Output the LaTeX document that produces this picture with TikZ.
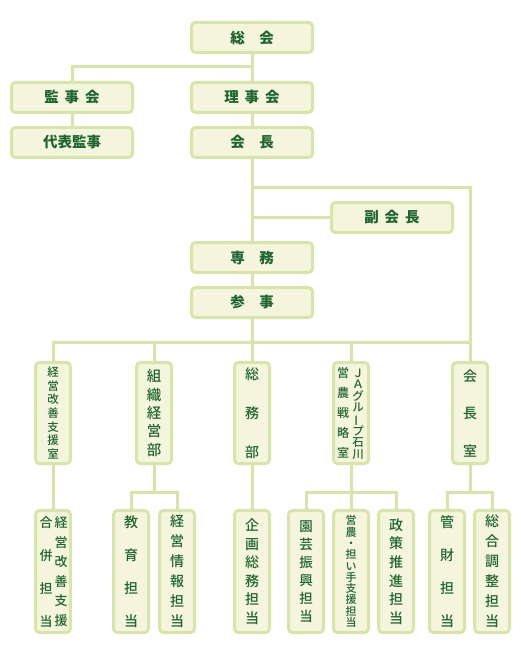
\documentclass[tikz,border=0pt]{standalone}
\usepackage{fontspec}
\setmainfont{Noto Sans CJK JP}
\newfontfamily\medfont{Noto Sans CJK JP Medium}
\usepackage{xcolor}
\definecolor{lineGreen}{HTML}{D5E6A8}
\definecolor{boxFill}{HTML}{F4F5DC}
\definecolor{textGreen}{HTML}{1E6630}
\newcommand\colsize[2]{\medfont\fontsize{#1}{#2}\selectfont\lineskiplimit=-20pt\relax}

\begin{document}
\begin{tikzpicture}[
    x=1pt, y=-1pt,
    box/.style={%
      draw=lineGreen,
      line width=3pt,
      fill=boxFill,
      rounded corners=4pt,
      text=textGreen,
      inner sep=0pt,
    },
    wide/.style={box, minimum width=121pt, minimum height=30pt,
      font=\fontsize{14.5}{16}\selectfont\bfseries},
    tall/.style={box, minimum width=35pt, minimum height=101pt, align=center},
    low/.style={box, minimum width=35pt, minimum height=122pt, align=center},
    word/.style={text=textGreen, inner sep=0pt, align=center},
    link/.style={draw=lineGreen, line width=3pt},
  ]
    \useasboundingbox (0,0) rectangle (520,655);

    % upper part
    \node [wide] (sokai) at (252,37.5) {総\hspace{1em}会};
    \node [wide] (kanjikai) at (72,97.5) {監\hspace{.4em}事\hspace{.4em}会};
    \node [wide] (rijikai) at (252,97.5) {理\hspace{.4em}事\hspace{.4em}会};
    \node [wide] (daihyo) at (72,142.5) {代表監事};
    \node [wide] (kaicho) at (252,142.5) {会\hspace{1em}長};
    \node [wide] (fukukaicho) at (392,217.5) {副\hspace{.4em}会\hspace{.4em}長};
    \node [wide] (senmu) at (252,257.5) {専\hspace{1em}務};
    \node [wide] (sanji) at (252,302.5) {参\hspace{1em}事};

    % departments
    \node [tall, font=\colsize{11.5}{13.6}] (keiei) at (53,413) {経\\営\\改\\善\\支\\援\\室};
    \node [tall, font=\colsize{14.5}{18.3}] (soshiki) at (154,413) {組\\織\\経\\営\\部};
    \node [tall, font=\colsize{14}{39}] (somubu) at (252,413) {総\\務\\部};
    \node [tall] (eino) at (351,413) {};
    \node [word, font=\colsize{11.5}{11.6}] (eino-ja) at (358,414)
      {Ｊ\\Ａ\\グ\\ル\\\rotatebox[origin=c]{90}{ー}\\プ\\石\\川};
    \node [word, font=\colsize{12}{20}] (eino-sen) at (343,413) {営\\農\\戦\\略\\室};
    \node [tall, font=\colsize{14}{37.5}] (kaichoshitsu) at (470,413) {会\\長\\室};

    % sections
    \node [low] (gappei) at (53,571.5) {};
    \node [word, font=\colsize{13}{19.5}] (gappei-kaizen) at (61,571.5) {経\\営\\改\\善\\支\\援};
    \node [word, font=\colsize{13}{33}] (gappei-tanto) at (46,572.5) {合\\併\\担\\当};
    \node [low, font=\colsize{14}{33}] (kyoiku) at (131,571.5) {教\\育\\担\\当};
    \node [low, font=\colsize{14}{20}] (jyoho) at (177,571.5) {経\\営\\情\\報\\担\\当};
    \node [low, font=\colsize{14}{18.5}] (kikaku) at (252,571.5) {企\\画\\総\\務\\担\\当};
    \node [low, font=\colsize{13.5}{18}] (engei) at (306,571.5) {園\\芸\\振\\興\\担\\当};
    \node [low, font=\colsize{11}{11.3}] (ninaite) at (351,571.5) {営\\農\\・\\担\\い\\手\\支\\援\\担\\当};
    \node [low, font=\colsize{14}{18.6}] (seisaku) at (396,571.5) {政\\策\\推\\進\\担\\当};
    \node [low, font=\colsize{14}{33}] (kanzai) at (447,571.5) {管\\財\\担\\当};
    \node [low, font=\colsize{14}{20}] (chosei) at (492,571.5) {総\\合\\調\\整\\担\\当};

    % connectors
    \coordinate (j1) at (252,67);
    \coordinate (j2) at (252,187);
    \coordinate (j3) at (252,342);
    \coordinate (j4) at (154,492);
    \coordinate (j5) at (351,492);
    \coordinate (j6) at (470,492);

    \draw [link] (sokai) -- (rijikai);
    \draw [link] (j1) -| (kanjikai.north);
    \draw [link] (kanjikai) -- (daihyo);
    \draw [link] (rijikai) -- (kaicho);
    \draw [link] (kaicho) -- (senmu);
    \draw [link] (j2) -| (kaichoshitsu.north);
    \draw [link] (fukukaicho.west) -- (fukukaicho.west -| senmu.north);
    \draw [link] (senmu) -- (sanji);
    \draw [link] (sanji) -- (somubu);
    \draw [link] (keiei.north) |- (kaichoshitsu.north |- j3);
    \draw [link] (soshiki.north) -- (soshiki.north |- j3);
    \draw [link] (eino.north) -- (eino.north |- j3);

    \draw [link] (keiei) -- (gappei);
    \draw [link] (somubu) -- (kikaku);
    \draw [link] (soshiki) -- (j4);
    \draw [link] (kyoiku.north) |- (j4) -| (jyoho.north);
    \draw [link] (eino) -- (j5);
    \draw [link] (j5) -- (ninaite);
    \draw [link] (engei.north) |- (j5) -| (seisaku.north);
    \draw [link] (kaichoshitsu) -- (j6);
    \draw [link] (kanzai.north) |- (j6) -| (chosei.north);
\end{tikzpicture}
\end{document}
